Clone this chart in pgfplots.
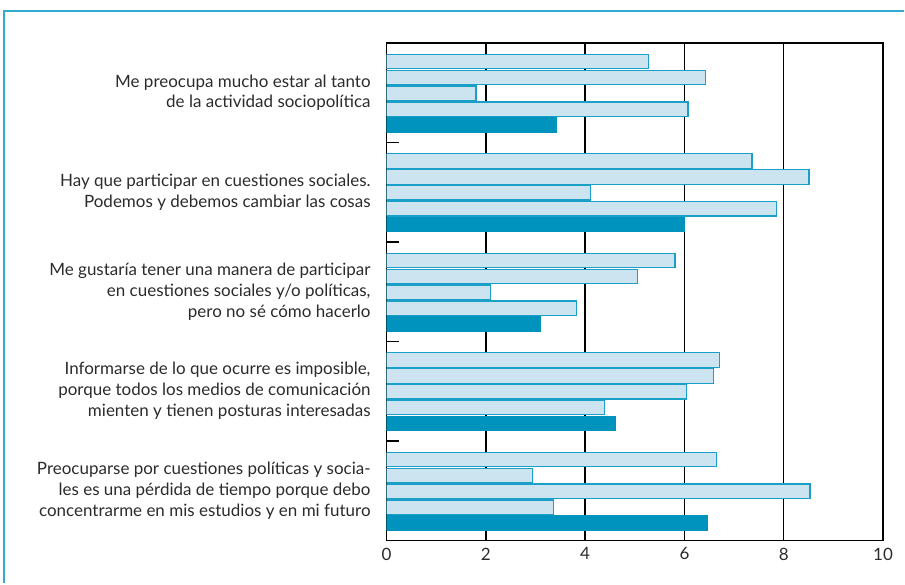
\documentclass[border=0pt]{standalone}
\usepackage{pgfplots}
\pgfplotsset{compat=1.18}
\usepackage{fontspec}
\setmainfont{Lato}

\definecolor{marco}{HTML}{33AACE}
\definecolor{borde}{HTML}{1A9FC9}
\definecolor{claro}{HTML}{CCE4F0}
\definecolor{oscuro}{HTML}{0093BD}
\definecolor{texto}{HTML}{2B2B2B}

\begin{document}
\begin{tikzpicture}
\begin{axis}[
    at={(0,0)}, anchor=south west,
    scale only axis,
    width=372.75pt, height=373.5pt,
    xmin=0, xmax=10,
    ymin=0, ymax=498,
    y dir=reverse,
    xtick={0,2,...,10},
    xtick pos=bottom,
    xtick style={draw=none},
    xmajorgrids,
    grid style={black, line width=1pt},
    axis line style={black, line width=1pt},
    ytick={0,99.6,199.2,298.8,398.4,498},
    yticklabels={},
    ytick pos=left,
    tick align=inside,
    major tick length=9pt,
    ytick style={black, line width=1pt},
    extra y ticks={49.8,149.4,249,348.6,448.2},
    extra y tick labels={
        {Me preocupa mucho estar al tanto\\de la actividad sociopolítica},
        {Hay que participar en cuestiones sociales.\\Podemos y debemos cambiar las cosas},
        {Me gustaría tener una manera de participar\\en cuestiones sociales y/o políticas,\\pero no sé cómo hacerlo},
        {Informarse de lo que ocurre es imposible,\\porque todos los medios de comunicación\\mienten y tienen posturas interesadas},
        {Preocuparse por cuestiones políticas y socia-\\les es una pérdida de tiempo porque debo\\concentrarme en mis estudios y en mi futuro}},
    extra y tick style={major tick length=0pt, ytick style={draw=none},
        yticklabel style={align=right, xshift=-8.5pt}},
    every tick label/.append style={text=texto, font=\fontsize{12.75}{15.75}\selectfont},
    xticklabel style={yshift=-2pt},
    /pgf/number format/assume math mode=true,
]
    % posiciones 1-4: barras claras
    \addplot[xbar, bar width=14.5, bar shift=0pt, draw=borde, fill=claro, line width=0.9pt]
        coordinates {(5.28,18.6) (7.36,118.2) (5.81,217.8) (6.70,317.4) (6.65,417.0)};
    \addplot[xbar, bar width=14.5, bar shift=0pt, draw=borde, fill=claro, line width=0.9pt]
        coordinates {(6.42,34.5) (8.51,134.1) (5.05,233.7) (6.58,333.3) (2.94,432.9)};
    \addplot[xbar, bar width=14.5, bar shift=0pt, draw=borde, fill=claro, line width=0.9pt]
        coordinates {(1.80,50.4) (4.10,150.0) (2.09,249.6) (6.04,349.2) (8.53,448.8)};
    \addplot[xbar, bar width=14.5, bar shift=0pt, draw=borde, fill=claro, line width=0.9pt]
        coordinates {(6.07,66.3) (7.86,165.9) (3.82,265.5) (4.39,365.1) (3.36,464.7)};
    % posicion 5: barra oscura
    \addplot[xbar, bar width=14.5, bar shift=0pt, draw=oscuro, fill=oscuro, line width=0.5pt]
        coordinates {(3.42,82.2) (6.00,181.8) (3.10,281.4) (4.61,381.0) (6.46,480.6)};
\end{axis}
\draw[marco, line width=1.5pt] (-287.25pt,-32.25pt) -- (-287.25pt,397.5pt) -- (388.5pt,397.5pt);
\useasboundingbox (-290.25pt,-32.25pt) rectangle (388.5pt,405.75pt);
\end{tikzpicture}
\end{document}
